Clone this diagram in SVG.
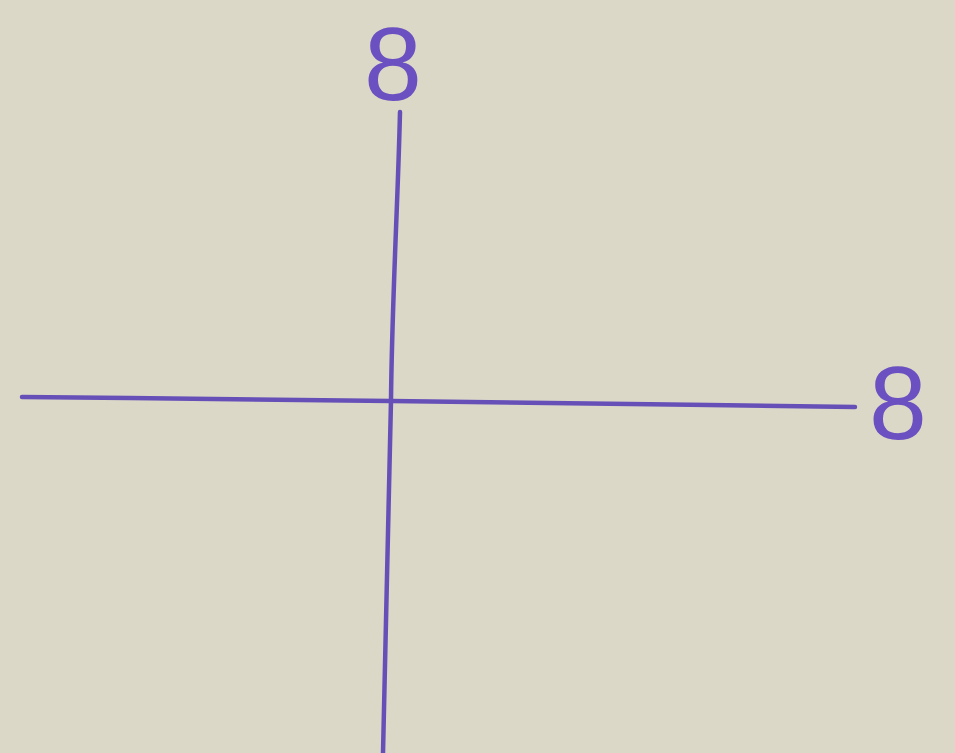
<svg xmlns="http://www.w3.org/2000/svg" width="955" height="753" viewBox="0 0 955 753">
<style>
.ink{fill:none;stroke:#6650b8;stroke-linecap:round;stroke-width:4.5}
.lbl{font-family:"Liberation Sans",Arial,sans-serif;font-size:104px;fill:#6a50c0;text-anchor:middle}
</style>
<rect width="955" height="753" fill="#dcd8c7"/>
<g id="connectors">
<path class="ink" d="M400,112 C398,200 392,300 391,400 C389,520 385,640 383,753"/>
<path class="ink" d="M22,397 C150,398 300,400 391,401 C550,403 700,405 855,407"/>
</g>
<g id="node-top"><text class="lbl" x="393" y="100">8</text></g>
<g id="node-right"><text class="lbl" x="898" y="439">8</text></g>
</svg>
